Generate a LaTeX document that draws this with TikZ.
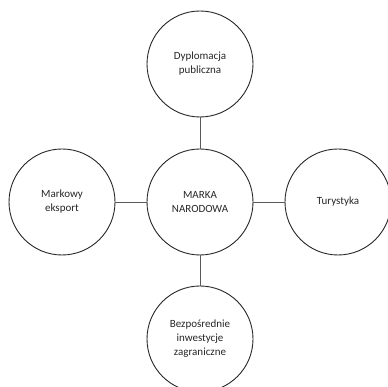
\documentclass[tikz,border=0pt]{standalone}
\usepackage{fontspec}
\setmainfont{Carlito}
\usepackage{tikz}
\usepackage[svgnames]{xcolor}
\definecolor{linegray}{rgb}{0.35,0.35,0.35}
\tikzset{
    kolo/.style={draw=black!85, line width=0.9pt, circle, minimum size=106pt, inner sep=0pt, align=center, font=\fontsize{11}{14}\selectfont, text=black!85},
    polacz/.style={draw=linegray, line width=0.9pt}
}
\begin{document}
\begin{tikzpicture}[x=1pt, y=1pt]
                            \useasboundingbox (0,0) rectangle (388,387);
                            \node[kolo] (marka) at (200, 185) {MARKA\\NARODOWA};
                            \node[kolo] (dyplomacja) at (200, 323) {Dyplomacja\\publiczna};
                            \node[kolo] (eksport) at (62, 185) {Markowy\\eksport};
                            \node[kolo] (turystyka) at (338, 185) {Turystyka};
                            \node[kolo] (inwestycje) at (200, 48) {Bezpośrednie\\inwestycje\\zagraniczne};
                            \draw[polacz] (marka) -- (dyplomacja);
                            \draw[polacz] (marka) -- (eksport);
                            \draw[polacz] (marka) -- (turystyka);
                            \draw[polacz] (marka) -- (inwestycje);
                        \end{tikzpicture}
\end{document}
